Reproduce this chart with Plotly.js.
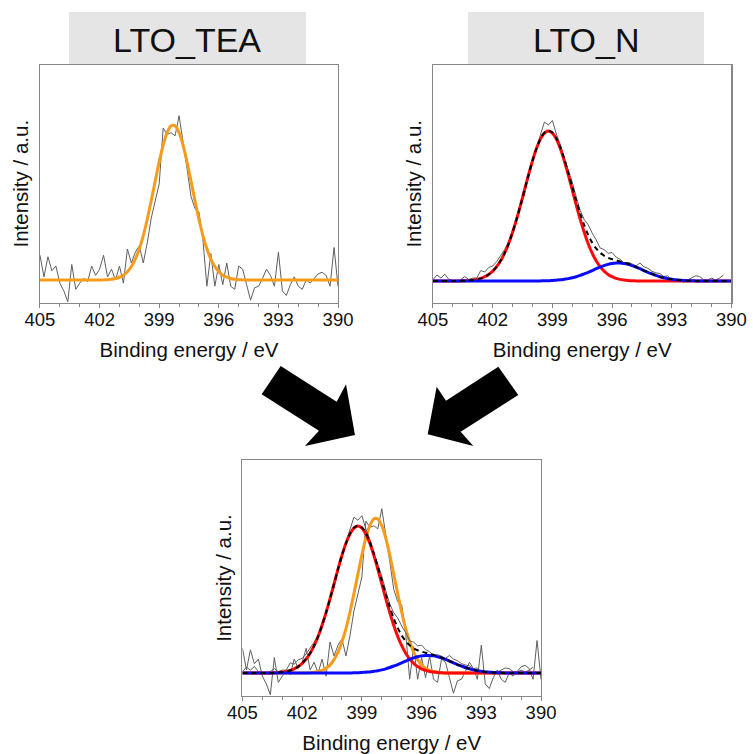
<!DOCTYPE html>
<html>
<head>
<meta charset="utf-8">
<script src="https://cdn.plot.ly/plotly-3.0.1.min.js"></script>
<style>html,body{margin:0;padding:0;background:#fff;}#chart{width:753px;height:754px;}</style>
</head>
<body>
<div id="chart"></div>
<script>
// Binding energy grid (eV)
const energy = [405.0,404.8,404.6,404.4,404.2,404.0,403.8,403.6,403.4,403.2,403.0,402.8,402.6,402.4,402.2,402.0,401.8,401.6,401.4,401.2,401.0,400.8,400.6,400.4,400.2,400.0,399.8,399.6,399.4,399.2,399.0,398.8,398.6,398.4,398.2,398.0,397.8,397.6,397.4,397.2,397.0,396.8,396.6,396.4,396.2,396.0,395.8,395.6,395.4,395.2,395.0,394.8,394.6,394.4,394.2,394.0,393.8,393.6,393.4,393.2,393.0,392.8,392.6,392.4,392.2,392.0,391.8,391.6,391.4,391.2,391.0,390.8,390.6,390.4,390.2,390.0];

// LTO_TEA: measured spectrum and single-peak fit (normalised intensity)
const teaRaw = [0.16,0.02,0.15,0.06,0.09,-0.02,-0.07,-0.14,0.10,-0.06,-0.02,0.01,-0.01,0.09,0.03,0.07,0.16,0.02,0.07,0.00,0.09,-0.02,0.20,0.11,0.18,0.22,0.11,0.24,0.40,0.52,0.62,0.98,0.94,0.95,0.93,1.06,0.90,0.72,0.54,0.46,0.44,0.26,-0.04,0.17,-0.04,0.10,-0.03,0.11,-0.04,-0.06,0.09,0.07,-0.03,-0.13,-0.05,-0.04,0.01,0.07,0.03,-0.04,0.18,-0.07,-0.10,-0.03,0.02,-0.04,-0.06,0.00,-0.02,0.01,0.04,0.05,0.03,-0.04,0.21,-0.04];
const teaFit = [0,0,0,0,0,0,0,0,0,0,0,0,0,0,0,0,0.001,0.002,0.005,0.010,0.018,0.031,0.053,0.087,0.135,0.202,0.287,0.392,0.512,0.638,0.762,0.871,0.951,0.994,0.994,0.951,0.871,0.762,0.638,0.512,0.392,0.287,0.202,0.135,0.087,0.053,0.031,0.018,0.010,0.005,0.002,0.001,0,0,0,0,0,0,0,0,0,0,0,0,0,0,0,0,0,0,0,0,0,0,0,0];

// LTO_N: measured spectrum, two fitted components and their sum
const nRaw = [0.01,0.04,0.02,0.045,0.01,0.005,-0.005,0.01,0.03,0.01,0.02,0.02,0.07,0.06,0.09,0.10,0.13,0.17,0.21,0.26,0.34,0.43,0.50,0.58,0.70,0.81,0.89,0.97,1.06,1.04,1.07,0.98,0.91,0.82,0.74,0.66,0.56,0.47,0.41,0.375,0.32,0.275,0.22,0.21,0.185,0.19,0.16,0.145,0.12,0.125,0.115,0.10,0.12,0.095,0.085,0.065,0.055,0.05,0.03,0.035,0.007,-0.005,0.007,-0.01,0.007,0.02,0.035,0.03,0.01,0.007,0.02,0.007,0.02,0.04,null,null];
const nRed = [0,0,0,0,0,0,0,0.001,0.002,0.004,0.007,0.011,0.018,0.029,0.044,0.066,0.096,0.135,0.186,0.249,0.325,0.411,0.506,0.607,0.707,0.801,0.883,0.946,0.986,1.000,0.986,0.946,0.883,0.801,0.707,0.607,0.506,0.411,0.325,0.249,0.186,0.135,0.096,0.066,0.044,0.029,0.018,0.011,0.007,0.004,0.002,0.001,0,0,0,0,0,0,0,0,0,0,0,0,0,0,0,0,0,0,0,0,0,0,0,0];
const nBlue = [0,0,0,0,0,0,0,0,0,0,0,0,0,0,0,0,0,0,0,0,0,0,0,0,0,0,0,0.001,0.002,0.002,0.004,0.006,0.008,0.012,0.016,0.022,0.029,0.038,0.048,0.058,0.070,0.082,0.093,0.103,0.111,0.117,0.120,0.120,0.117,0.111,0.103,0.093,0.082,0.070,0.058,0.048,0.038,0.029,0.022,0.016,0.012,0.008,0.006,0.004,0.002,0.002,0.001,0,0,0,0,0,0,0,0,0];
const nEnvelope = [0,0,0,0,0,0,0,0.001,0.002,0.004,0.007,0.011,0.018,0.029,0.044,0.066,0.096,0.135,0.186,0.249,0.325,0.411,0.506,0.607,0.707,0.801,0.883,0.947,0.988,1.002,0.990,0.952,0.891,0.813,0.723,0.629,0.535,0.449,0.373,0.307,0.256,0.217,0.189,0.169,0.155,0.146,0.138,0.131,0.124,0.115,0.105,0.094,0.082,0.070,0.058,0.048,0.038,0.029,0.022,0.016,0.012,0.008,0.006,0.004,0.002,0.002,0.001,0,0,0,0,0,0,0,0,0];

// Tick labels / text
const tickVals = [405,402,399,396,393,390];
const panelTitles = ['LTO_TEA','LTO_N'];
const xTitle = 'Binding energy / eV';
const yTitle = 'Intensity / a.u.';

const FONT = 'Liberation Sans, Arial, Helvetica, sans-serif';
const RAW = 'rgb(95,95,95)';
const ORANGE = 'rgb(246,156,28)';
const RED = 'rgb(255,10,10)';
const BLUE = 'rgb(10,10,255)';
const FRAME = 'rgb(135,135,135)';

function raw(y, xa, ya) {
  return {x: energy, y: y, xaxis: xa, yaxis: ya, mode: 'lines', line: {color: RAW, width: 1}, hoverinfo: 'skip'};
}
function fit(y, xa, ya, color, dash) {
  return {x: energy, y: y, xaxis: xa, yaxis: ya, mode: 'lines',
    line: {color: color, width: dash ? 2 : 3, shape: 'spline', smoothing: 0.8, dash: dash || 'solid'}, hoverinfo: 'skip'};
}

const traces = [
  raw(teaRaw, 'x', 'y'),
  fit(teaFit, 'x', 'y', ORANGE),

  raw(nRaw, 'x2', 'y2'),
  fit(nRed, 'x2', 'y2', RED),
  fit(nBlue, 'x2', 'y2', BLUE),
  fit(nEnvelope, 'x2', 'y2', 'black', '5px,4px'),

  raw(teaRaw, 'x3', 'y3'),
  fit(teaFit, 'x3', 'y3', ORANGE),
  raw(nRaw, 'x3', 'y4'),
  fit(nRed, 'x3', 'y4', RED),
  fit(nBlue, 'x3', 'y4', BLUE),
  fit(nEnvelope, 'x3', 'y4', 'black', '5px,4px')
];

function xAxis(domain, anchor) {
  return {
    domain: domain, anchor: anchor, range: [405, 390], autorange: false,
    tickmode: 'array', tickvals: tickVals, ticktext: tickVals.map(String),
    ticks: 'outside', ticklen: 4, tickwidth: 1, tickcolor: FRAME,
    ticklabelstandoff: -4,
    minor: {dtick: 1, tick0: 390, ticks: 'outside', ticklen: 3, tickcolor: FRAME},
    showline: true, linecolor: FRAME, linewidth: 1.2, mirror: true,
    showgrid: false, zeroline: false,
    tickfont: {family: FONT, size: 18.5, color: '#111'},
    title: {text: xTitle, font: {family: FONT, size: 20.5, color: '#111'}, standoff: 13}
  };
}
function yAxis(domain, anchor, range) {
  return {
    domain: domain, anchor: anchor, range: range, autorange: false,
    showticklabels: false, ticks: '', showgrid: false, zeroline: false,
    showline: true, linecolor: FRAME, linewidth: 1.2, mirror: true,
    title: {text: yTitle, font: {family: FONT, size: 20.5, color: '#111'}, standoff: 4}
  };
}

const topDom = [0.5988, 0.9138];
const botDom = [0.0769, 0.3899];

const layout = {
  width: 753, height: 754,
  margin: {l: 0, r: 0, t: 0, b: 0, pad: 0},
  paper_bgcolor: 'white', plot_bgcolor: 'white',
  showlegend: false,
  font: {family: FONT, color: '#111'},
  xaxis: xAxis([0.0531, 0.4489], 'y'),
  yaxis: yAxis(topDom, 'x', [-0.145, 1.387]),
  xaxis2: xAxis([0.5750, 0.9714], 'y2'),
  yaxis2: yAxis(topDom, 'x2', [-0.143, 1.44]),
  xaxis3: xAxis([0.3220, 0.7185], 'y3'),
  yaxis3: yAxis(botDom, 'x3', [-0.148, 1.374]),
  yaxis4: {domain: botDom, anchor: 'x3', overlaying: 'y3', range: [-0.156, 1.449], autorange: false, visible: false},
  shapes: [
    {type: 'rect', xref: 'paper', yref: 'paper', x0: 0.0916, x1: 0.4064, y0: 0.9138, y1: 0.9841,
     fillcolor: 'rgb(229,229,229)', line: {width: 0}, layer: 'below'},
    {type: 'rect', xref: 'paper', yref: 'paper', x0: 0.6215, x1: 0.9349, y0: 0.9138, y1: 0.9841,
     fillcolor: 'rgb(229,229,229)', line: {width: 0}, layer: 'below'},
    {type: 'path', xref: 'paper', yref: 'paper', fillcolor: 'black', line: {width: 0},
     path: 'M0.3728,0.5146 L0.4471,0.4672 L0.4595,0.4903 L0.4714,0.4231 L0.4050,0.4085 L0.4236,0.4288 L0.3475,0.4771 Z'},
    {type: 'path', xref: 'paper', yref: 'paper', fillcolor: 'black', line: {width: 0},
     path: 'M0.6618,0.5137 L0.5923,0.4686 L0.5799,0.4871 L0.5680,0.4240 L0.6286,0.4085 L0.6118,0.4275 L0.6883,0.4761 Z'}
  ],
  annotations: [
    {xref: 'paper', yref: 'paper', x: 0.2490, y: 0.9463, xanchor: 'center', yanchor: 'middle', showarrow: false,
     text: panelTitles[0], font: {family: FONT, size: 34, color: '#111'}},
    {xref: 'paper', yref: 'paper', x: 0.7782, y: 0.9463, xanchor: 'center', yanchor: 'middle', showarrow: false,
     text: panelTitles[1], font: {family: FONT, size: 34, color: '#111'}}
  ]
};

Plotly.newPlot('chart', traces, layout, {staticPlot: true, displayModeBar: false});
</script>
</body>
</html>
